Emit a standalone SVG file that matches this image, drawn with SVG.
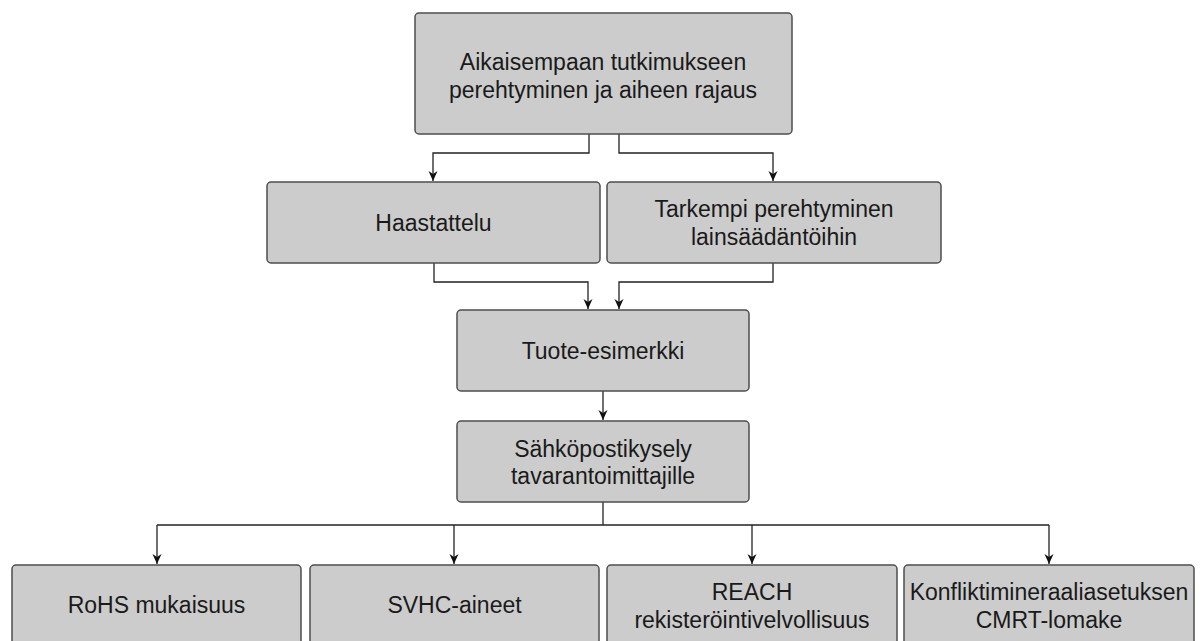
<svg xmlns="http://www.w3.org/2000/svg" width="1202" height="641" viewBox="0 0 1202 641">
<style>
.box{fill:#cccccc;stroke:#4d4d4d;stroke-width:1.5}
.t{font-family:"Liberation Sans",Arial,sans-serif;font-size:23px;fill:#1a1a1a;text-anchor:middle}
.c{fill:none;stroke:#222;stroke-width:1.3}
</style>
<defs>
<marker id="a" markerUnits="userSpaceOnUse" markerWidth="10" markerHeight="12" refX="10" refY="5" orient="auto" viewBox="0 0 10 10">
<path d="M0,0.5 L10,5 L0,9.5 L3,5 z" fill="#111"/>
</marker>
</defs>
<rect width="1202" height="641" fill="#ffffff"/>
<g id="connectors">
<path class="c" d="M589,134 V153 H433 V181" marker-end="url(#a)"/>
<path class="c" d="M619,134 V153 H773 V181" marker-end="url(#a)"/>
<path class="c" d="M434,263 V282 H588 V309" marker-end="url(#a)"/>
<path class="c" d="M773,263 V282 H619 V309" marker-end="url(#a)"/>
<path class="c" d="M603,391 V420" marker-end="url(#a)"/>
<path class="c" d="M603,502 V525"/>
<path class="c" d="M157,525 H1049"/>
<path class="c" d="M157,525 V564" marker-end="url(#a)"/>
<path class="c" d="M454,525 V564" marker-end="url(#a)"/>
<path class="c" d="M752,525 V564" marker-end="url(#a)"/>
<path class="c" d="M1049,525 V564" marker-end="url(#a)"/>
</g>
<g id="n1">
<rect class="box" x="415" y="13" width="377" height="121" rx="4"/>
<text class="t" x="603" y="70">Aikaisempaan tutkimukseen</text>
<text class="t" x="603" y="98">perehtyminen ja aiheen rajaus</text>
</g>
<g id="n2">
<rect class="box" x="267" y="182" width="333" height="81" rx="4"/>
<text class="t" x="433.5" y="231">Haastattelu</text>
</g>
<g id="n3">
<rect class="box" x="607" y="182" width="334" height="81" rx="4"/>
<text class="t" x="774" y="217">Tarkempi perehtyminen</text>
<text class="t" x="774" y="245">lainsäädäntöihin</text>
</g>
<g id="n4">
<rect class="box" x="457" y="310" width="292" height="81" rx="4"/>
<text class="t" x="603" y="359">Tuote-esimerkki</text>
</g>
<g id="n5">
<rect class="box" x="457" y="421" width="292" height="81" rx="4"/>
<text class="t" x="603" y="457">Sähköpostikysely</text>
<text class="t" x="603" y="484">tavarantoimittajille</text>
</g>
<g id="n6">
<rect class="box" x="12" y="565" width="289" height="82" rx="4"/>
<text class="t" x="156.5" y="613">RoHS mukaisuus</text>
</g>
<g id="n7">
<rect class="box" x="310" y="565" width="289" height="82" rx="4"/>
<text class="t" x="454.5" y="613">SVHC-aineet</text>
</g>
<g id="n8">
<rect class="box" x="607" y="565" width="290" height="82" rx="4"/>
<text class="t" x="752" y="600">REACH</text>
<text class="t" x="752" y="628">rekisteröintivelvollisuus</text>
</g>
<g id="n9">
<rect class="box" x="904" y="565" width="290" height="82" rx="4"/>
<text class="t" x="1049" y="600">Konfliktimineraaliasetuksen</text>
<text class="t" x="1049" y="628">CMRT-lomake</text>
</g>
</svg>
